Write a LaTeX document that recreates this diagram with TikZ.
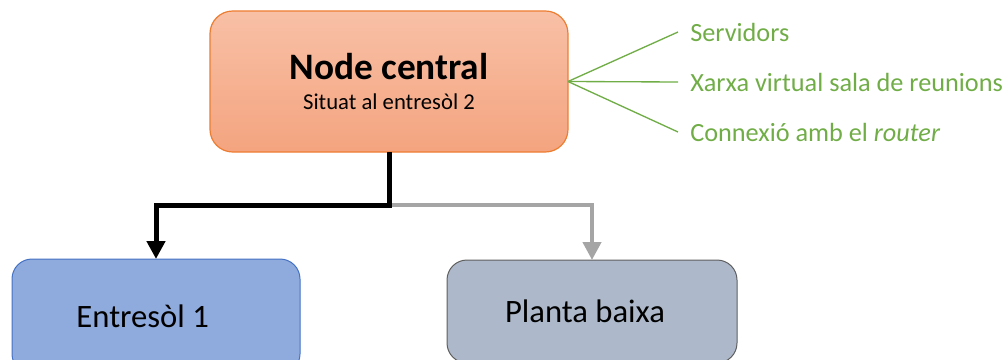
\documentclass[tikz,border=0pt]{standalone}
\usepackage{fontspec}
\setmainfont{Carlito}
\usepackage{tikz}
\usetikzlibrary{arrows.meta, positioning}
\definecolor{nodetop}{HTML}{F8C0A6}
\definecolor{nodebottom}{HTML}{F4A47F}
\definecolor{nodeborder}{HTML}{ED7D31}
\definecolor{bluefill}{HTML}{8FAADC}
\definecolor{blueborder}{HTML}{4472C4}
\definecolor{greyfill}{HTML}{ADB9CA}
\definecolor{greyborder}{HTML}{5F5F5F}
\definecolor{servicegreen}{HTML}{70AD47}
\definecolor{linkgrey}{HTML}{A5A5A5}
\tikzset{
    centralbox/.style={rectangle, draw=nodeborder, line width=0.9pt, rounded corners=17pt, top color=nodetop, bottom color=nodebottom, minimum width=268.5pt, minimum height=105.75pt, inner sep=0pt, outer sep=0pt, align=center, font=\fontsize{17pt}{22.5pt}\selectfont},
    floorbox/.style={rectangle, draw, line width=0.75pt, rounded corners=15pt, inner sep=0pt, outer sep=0pt, font=\fontsize{24.5pt}{29pt}\selectfont},
    servicelabel/.style={anchor=west, inner xsep=9pt, inner ysep=0pt, text=servicegreen, font=\fontsize{19.7pt}{23pt}\selectfont},
    greenline/.style={draw=servicegreen, line width=1pt},
    mainarrow/.style={-{Triangle[length=13.5pt, width=13.5pt]}, line width=3.75pt},
    sidearrow/.style={-{Triangle[length=13.5pt, width=13.5pt]}, line width=3.2pt, draw=linkgrey}
}
\begin{document}
\begin{tikzpicture}[x=0.75pt, y=-0.75pt]
    \useasboundingbox (0,0) rectangle (1006,360);
    \clip (0,0) rectangle (1006,360);

    % central node (top)
    \node[centralbox] (central) at (389,81.5)
    {{\fontsize{28pt}{33pt}\selectfont\bfseries Node central}\\ Situat al entresòl 2};

    % what sits in the central node
    \node[servicelabel] (srv) at (678,32) {Servidors};
    \node[servicelabel] (vnet) at (678,82) {Xarxa virtual sala de reunions};
    \node[servicelabel] (rtr) at (678,132) {Connexió amb el \textit{router}};
    \foreach \s in {srv, vnet, rtr}
        \draw[greenline] (central.east) -- (\s.west);

    % floors below (text sits a little left of centre)
    \node[floorbox, draw=blueborder, fill=bluefill, minimum width=216pt, minimum height=86.25pt] (ent) at (156,316.5) {Entresòl 1\kern20pt\null};
    \node[floorbox, draw=greyborder, fill=greyfill, minimum width=217.5pt, minimum height=77.25pt] (pb) at (592,311.5) {Planta baixa\kern10.5pt\null};

    % links
    \coordinate (split) at (central.south |- 0,205);
    \draw[sidearrow] (split) -| (pb.north);
    \draw[mainarrow] (central.south) -- (split) -| (ent.north);
\end{tikzpicture}
\end{document}
